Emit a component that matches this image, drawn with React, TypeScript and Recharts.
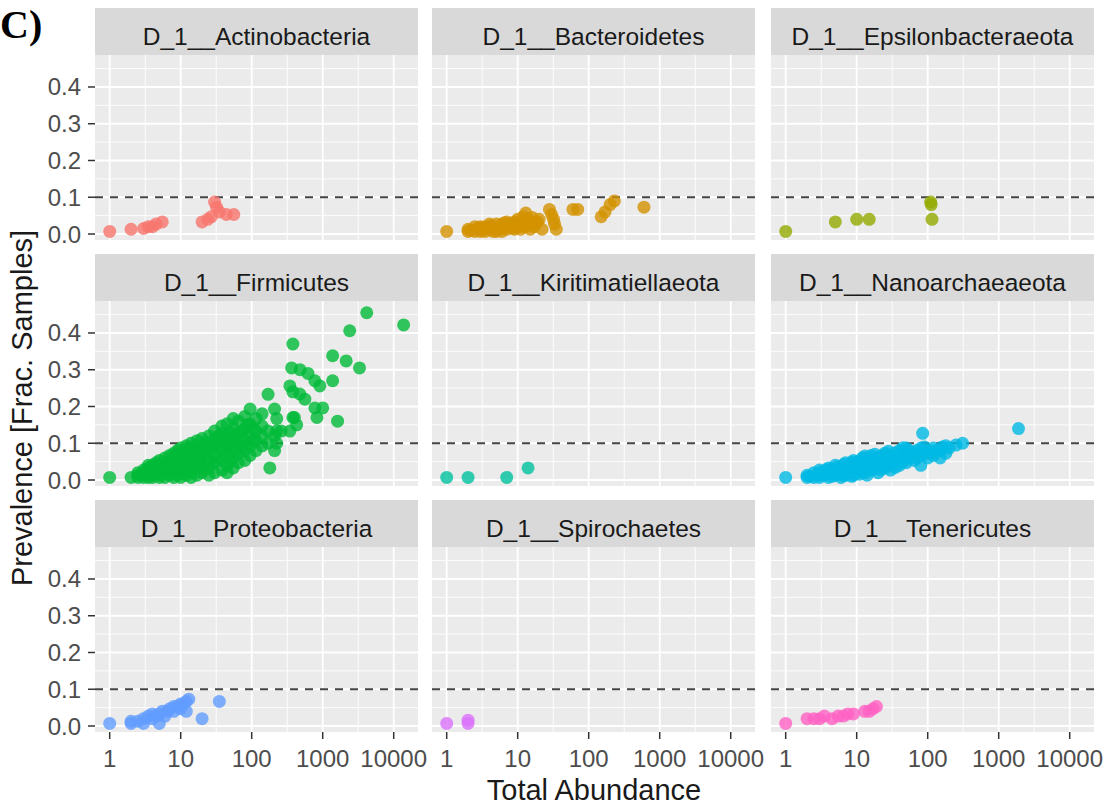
import React from 'react';
import {
  ScatterChart,
  Scatter,
  XAxis,
  YAxis,
  CartesianGrid,
  ReferenceLine,
} from 'recharts';

// [total abundance, prevalence] pairs per phylum
const actinobacteria = [
  [1, 0.007], [2, 0.013], [3, 0.015], [3.5, 0.02], [4, 0.02], [4.5, 0.027], [5.5, 0.033],
  [20, 0.033], [24, 0.04], [27, 0.047], [30, 0.087], [32, 0.073], [35, 0.06], [44, 0.053], [56, 0.053],
];

const bacteroidetes = [
  [1, 0.007],
  [2, 0.007], [2, 0.013], [2.2, 0.01], [2.5, 0.007], [2.5, 0.02], [2.8, 0.016], [3, 0.007],
  [3, 0.013], [3, 0.02], [3.2, 0.01], [3.5, 0.007], [3.5, 0.02], [3.8, 0.016], [4, 0.013],
  [4, 0.027], [4.2, 0.022], [4.5, 0.007], [4.5, 0.02], [5, 0.007], [5, 0.013], [5, 0.027],
  [5.5, 0.013], [5.5, 0.02], [6, 0.007], [6, 0.016], [6, 0.027], [6.5, 0.02], [6.5, 0.03],
  [7, 0.013], [7, 0.033], [7.5, 0.022], [8, 0.02], [8, 0.027], [8.5, 0.016], [9, 0.013],
  [9, 0.033], [9.5, 0.025], [10, 0.02], [10, 0.04], [10.5, 0.03], [11, 0.013], [11, 0.027],
  [12, 0.02], [12, 0.033], [12, 0.047], [13, 0.02], [13, 0.035], [13, 0.057], [14, 0.025],
  [14, 0.04], [15, 0.013], [16, 0.033], [16, 0.045], [17, 0.02], [18, 0.027], [19, 0.033],
  [20, 0.04], [22, 0.013],
  [28, 0.067], [30, 0.053], [32, 0.04], [33, 0.027], [35, 0.013],
  [60, 0.067], [70, 0.067],
  [150, 0.047], [170, 0.06], [200, 0.08], [230, 0.09],
  [600, 0.073],
];

const epsilonbacteraeota = [
  [1, 0.007], [5, 0.033], [10, 0.04], [15, 0.04], [110, 0.087], [112, 0.08], [115, 0.04],
];

const firmicutes = [
  [1, 0.007], [2, 0.007],
  [2.5, 0.007], [2.5, 0.013], [2.5, 0.02],
  [3, 0.007], [3, 0.013], [3, 0.02], [3, 0.027],
  [3.5, 0.007], [3.5, 0.02], [3.5, 0.033], [3.5, 0.04],
  [4, 0.007], [4, 0.013], [4, 0.027], [4, 0.04],
  [4.5, 0.02], [4.5, 0.033], [4.5, 0.047],
  [5, 0.007], [5, 0.013], [5, 0.027], [5, 0.04], [5, 0.053],
  [6, 0.007], [6, 0.02], [6, 0.033], [6, 0.047], [6, 0.06],
  [7, 0.013], [7, 0.027], [7, 0.04], [7, 0.053], [7, 0.067],
  [8, 0.007], [8, 0.02], [8, 0.033], [8, 0.047], [8, 0.06], [8, 0.073],
  [9, 0.013], [9, 0.04], [9, 0.067], [9, 0.08],
  [10, 0.007], [10, 0.02], [10, 0.033], [10, 0.053], [10, 0.073], [10, 0.087],
  [11, 0.04], [11, 0.06],
  [12, 0.013], [12, 0.027], [12, 0.047], [12, 0.067], [12, 0.08], [12, 0.093],
  [13, 0.05], [13, 0.075],
  [14, 0.007], [14, 0.02], [14, 0.04], [14, 0.06], [14, 0.087], [14, 0.1],
  [15, 0.03], [15, 0.065],
  [17, 0.013], [17, 0.033], [17, 0.053], [17, 0.073], [17, 0.093], [17, 0.107],
  [19, 0.05], [19, 0.09],
  [20, 0.02], [20, 0.04], [20, 0.067], [20, 0.087], [20, 0.113],
  [22, 0.03], [22, 0.075], [22, 0.1],
  [25, 0.013], [25, 0.033], [25, 0.053], [25, 0.08], [25, 0.1], [25, 0.12],
  [27, 0.045], [27, 0.09],
  [30, 0.02], [30, 0.047], [30, 0.067], [30, 0.093], [30, 0.113], [30, 0.133],
  [34, 0.06], [34, 0.1], [34, 0.12],
  [38, 0.027], [38, 0.053], [38, 0.08], [38, 0.107], [38, 0.127], [38, 0.147],
  [42, 0.08], [42, 0.11],
  [45, 0.02], [45, 0.04], [45, 0.067], [45, 0.093], [45, 0.12], [45, 0.153],
  [50, 0.05], [50, 0.1], [50, 0.13],
  [55, 0.033], [55, 0.06], [55, 0.087], [55, 0.113], [55, 0.14], [55, 0.167],
  [60, 0.08], [60, 0.12],
  [65, 0.047], [65, 0.073], [65, 0.1], [65, 0.127], [65, 0.16],
  [72, 0.09], [72, 0.13],
  [80, 0.053], [80, 0.08], [80, 0.107], [80, 0.14], [80, 0.173],
  [88, 0.1], [88, 0.15],
  [95, 0.067], [95, 0.093], [95, 0.12], [95, 0.153], [95, 0.193],
  [105, 0.11], [105, 0.14],
  [115, 0.08], [115, 0.107], [115, 0.133], [115, 0.167],
  [140, 0.093], [140, 0.12], [140, 0.147], [140, 0.18],
  [170, 0.1], [170, 0.133], [170, 0.233],
  [180, 0.033],
  [210, 0.08], [210, 0.12], [210, 0.193],
  [225, 0.1], [225, 0.133], [225, 0.167],
  [260, 0.133],
  [345, 0.133], [345, 0.256],
  [365, 0.305],
  [380, 0.17], [380, 0.24], [380, 0.37],
  [400, 0.17], [430, 0.15],
  [475, 0.234], [480, 0.3],
  [560, 0.22], [620, 0.29],
  [775, 0.27], [775, 0.196], [830, 0.17], [910, 0.256], [1000, 0.196],
  [1380, 0.338], [1380, 0.27], [1620, 0.16],
  [2140, 0.324], [2400, 0.406], [3300, 0.305], [4170, 0.455],
  [13800, 0.422],
];

const kiritimatiellaeota = [
  [1, 0.007], [2, 0.007], [7, 0.007], [14, 0.033],
];

const nanoarchaeaeota = [
  [1, 0.007],
  [2, 0.007], [2, 0.013], [2.2, 0.01], [2.5, 0.007], [2.5, 0.02], [2.8, 0.016], [3, 0.007],
  [3, 0.013], [3, 0.027], [3.2, 0.022], [3.5, 0.013], [3.5, 0.02], [3.8, 0.028], [4, 0.007],
  [4, 0.02], [4, 0.033], [4.5, 0.01], [4.5, 0.03], [5, 0.013], [5, 0.027], [5, 0.04],
  [5.5, 0.018], [5.5, 0.036], [6, 0.007], [6, 0.02], [6, 0.033], [6.5, 0.012], [6.5, 0.028],
  [6.5, 0.042], [7, 0.013], [7, 0.027], [7, 0.047], [7.5, 0.02], [7.5, 0.036], [8, 0.02],
  [8, 0.04], [8.5, 0.01], [8.5, 0.028], [8.5, 0.048], [9, 0.013], [9, 0.033], [9, 0.053],
  [10, 0.02], [10, 0.047], [11, 0.016], [11, 0.034], [11, 0.052], [12, 0.027], [12, 0.04],
  [12, 0.06], [13, 0.02], [13, 0.045], [13, 0.065], [14, 0.013], [14, 0.033], [14, 0.053],
  [15, 0.04], [15, 0.058], [16, 0.027], [16, 0.047], [16, 0.067], [18, 0.03], [18, 0.05],
  [18, 0.07], [20, 0.02], [20, 0.04], [20, 0.06], [22, 0.028], [22, 0.048], [22, 0.066],
  [25, 0.033], [25, 0.053], [25, 0.073], [28, 0.04], [28, 0.06], [28, 0.078], [30, 0.027],
  [30, 0.047], [30, 0.067], [35, 0.034], [35, 0.054], [35, 0.074], [40, 0.04], [40, 0.06],
  [40, 0.08], [45, 0.05], [45, 0.07], [45, 0.088], [50, 0.047], [50, 0.067], [50, 0.087],
  [55, 0.06], [55, 0.08], [65, 0.053], [65, 0.073], [70, 0.06], [70, 0.08], [80, 0.04],
  [80, 0.067], [80, 0.087], [85, 0.127], [90, 0.07], [90, 0.09], [100, 0.06], [100, 0.08],
  [110, 0.075], [120, 0.067], [120, 0.087], [130, 0.08], [150, 0.06], [150, 0.08],
  [160, 0.09], [180, 0.073], [180, 0.093], [200, 0.087], [250, 0.095], [310, 0.1],
  [1900, 0.14],
];

const proteobacteria = [
  [1, 0.007], [2, 0.007], [2, 0.013], [2.5, 0.013], [3, 0.007], [3, 0.02], [3.5, 0.027],
  [4, 0.02], [4, 0.033], [4.5, 0.027], [5, 0.007], [5, 0.033], [5.5, 0.04], [6, 0.027],
  [6.5, 0.04], [7, 0.047], [8, 0.04], [8, 0.053], [9, 0.053], [10, 0.047], [10, 0.06],
  [11, 0.06], [12, 0.04], [12, 0.067], [13, 0.073], [20, 0.02], [35, 0.067],
];

const spirochaetes = [
  [1, 0.007], [2, 0.007], [2, 0.016],
];

const tenericutes = [
  [1, 0.007], [2, 0.02], [2.5, 0.02], [3, 0.02], [3.5, 0.027], [4.5, 0.02], [5.5, 0.027],
  [6.5, 0.027], [7.5, 0.033], [9, 0.033], [13, 0.04], [15, 0.04], [17, 0.047], [19, 0.053],
];

const phyla = [
  'D_1__Actinobacteria', 'D_1__Bacteroidetes', 'D_1__Epsilonbacteraeota',
  'D_1__Firmicutes', 'D_1__Kiritimatiellaeota', 'D_1__Nanoarchaeaeota',
  'D_1__Proteobacteria', 'D_1__Spirochaetes', 'D_1__Tenericutes',
];
const phylumColors = [
  '#F8766D', '#D39200', '#93AA00', '#00BA38', '#00C19F', '#00B9E3', '#619CFF', '#DB72FB', '#FF61C3',
];
const phylumData = [
  actinobacteria, bacteroidetes, epsilonbacteraeota,
  firmicutes, kiritimatiellaeota, nanoarchaeaeota,
  proteobacteria, spirochaetes, tenericutes,
];

const X_BREAKS = [1, 10, 100, 1000, 10000];
const X_MINOR = [3.1623, 31.623, 316.23, 3162.3];
const Y_BREAKS = [0, 0.1, 0.2, 0.3, 0.4];
const Y_MINOR = [0.05, 0.15, 0.25, 0.35, 0.45];
const X_DOMAIN = [0.621, 21980];
const Y_DOMAIN = [-0.0163, 0.487];
const THRESHOLD = 0.1;

// facet layout (page pixels)
const COL_LEFT = [95, 432, 771];
const ROW_TOP = [8, 254, 500];
const PANEL_W = 323;
const STRIP_H = 47;
const PLOT_H = 185;

const SANS = '"Liberation Sans", Arial, Helvetica, sans-serif';

interface PanelProps {
  name: string;
  color: string;
  rows: number[][];
  row: number;
  col: number;
}

const Panel: React.FC<PanelProps> = ({ name, color, rows, row, col }) => {
  const left = COL_LEFT[col];
  const top = ROW_TOP[row];
  const showY = col === 0;
  const showX = row === 2;
  const yW = showY ? 60 : 0;
  // room below the plot: x axis on the last row, overhang for the "0.0" label elsewhere
  const below = showX ? 60 : 14;
  const data = rows.map(([x, y]) => ({ x, y }));

  return (
    <>
      {/* Strip */}
      <div
        style={{
          position: 'absolute',
          left,
          top,
          width: PANEL_W,
          height: STRIP_H - 10,
          paddingTop: 10,
          background: '#D9D9D9',
          color: '#1A1A1A',
          fontSize: 24.5,
          display: 'flex',
          alignItems: 'center',
          justifyContent: 'center',
          whiteSpace: 'nowrap',
        }}
      >
        {name}
      </div>

      {/* Panel */}
      <div style={{ position: 'absolute', left: left - yW, top: top + STRIP_H }}>
        <ScatterChart
          width={PANEL_W + yW + 20}
          height={PLOT_H + below}
          margin={{ top: 0, right: 20, bottom: showX ? 0 : below, left: 0 }}
        >
          <CartesianGrid
            fill="#EBEBEB"
            fillOpacity={1}
            stroke="#FFFFFF"
            strokeWidth={0.9}
            horizontalValues={Y_MINOR}
            verticalValues={X_MINOR}
          />
          <CartesianGrid
            stroke="#FFFFFF"
            strokeWidth={1.8}
            horizontalValues={Y_BREAKS}
            verticalValues={X_BREAKS}
          />
          <XAxis
            type="number"
            dataKey="x"
            scale="log"
            domain={X_DOMAIN}
            allowDataOverflow
            ticks={X_BREAKS}
            interval={0}
            hide={!showX}
            height={60}
            axisLine={false}
            tickLine={{ stroke: '#333333', strokeWidth: 1.5 }}
            tickSize={7}
            tickMargin={11}
            tick={{ fill: '#4D4D4D', fontSize: 24, fontFamily: SANS }}
            tickFormatter={(v: number) => String(v)}
          />
          <YAxis
            type="number"
            dataKey="y"
            domain={Y_DOMAIN}
            allowDataOverflow
            ticks={Y_BREAKS}
            interval={0}
            hide={!showY}
            width={60}
            axisLine={false}
            tickLine={{ stroke: '#333333', strokeWidth: 1.5 }}
            tickSize={7}
            tickMargin={7}
            tick={{ fill: '#4D4D4D', fontSize: 24, fontFamily: SANS }}
            tickFormatter={(v: number) => v.toFixed(1)}
          />
          <ReferenceLine
            y={THRESHOLD}
            stroke="#444444"
            strokeWidth={2}
            strokeDasharray="8 7"
          />
          <Scatter
            data={data}
            fill={color}
            isAnimationActive={false}
            shape={(p: any) => (
              <circle cx={p.cx} cy={p.cy} r={6.5} fill={color} fillOpacity={0.8} />
            )}
          />
        </ScatterChart>
      </div>
    </>
  );
};

export default function App() {
  return (
    <div
      style={{
        position: 'absolute',
        left: 0,
        top: 0,
        width: 1116,
        height: 807,
        background: '#FFFFFF',
        fontFamily: SANS,
        overflow: 'hidden',
      }}
    >
      <div
        style={{
          position: 'absolute',
          left: 0,
          top: 5,
          fontFamily: '"Liberation Serif", "Times New Roman", serif',
          fontWeight: 'bold',
          fontSize: 40,
          lineHeight: 1,
          color: '#000',
        }}
      >
        C)
      </div>

      {phyla.map((name, i) => (
        <Panel
          key={name}
          name={name}
          color={phylumColors[i]}
          rows={phylumData[i]}
          row={Math.floor(i / 3)}
          col={i % 3}
        />
      ))}

      {/* Axis titles */}
      <div
        style={{
          position: 'absolute',
          left: 594,
          top: 790,
          transform: 'translate(-50%, -50%)',
          fontSize: 29,
          color: '#1A1A1A',
          whiteSpace: 'nowrap',
        }}
      >
        Total Abundance
      </div>
      <div
        style={{
          position: 'absolute',
          left: 22,
          top: 408,
          transform: 'translate(-50%, -50%) rotate(-90deg)',
          fontSize: 29,
          color: '#1A1A1A',
          whiteSpace: 'nowrap',
        }}
      >
        Prevalence [Frac. Samples]
      </div>
    </div>
  );
}
